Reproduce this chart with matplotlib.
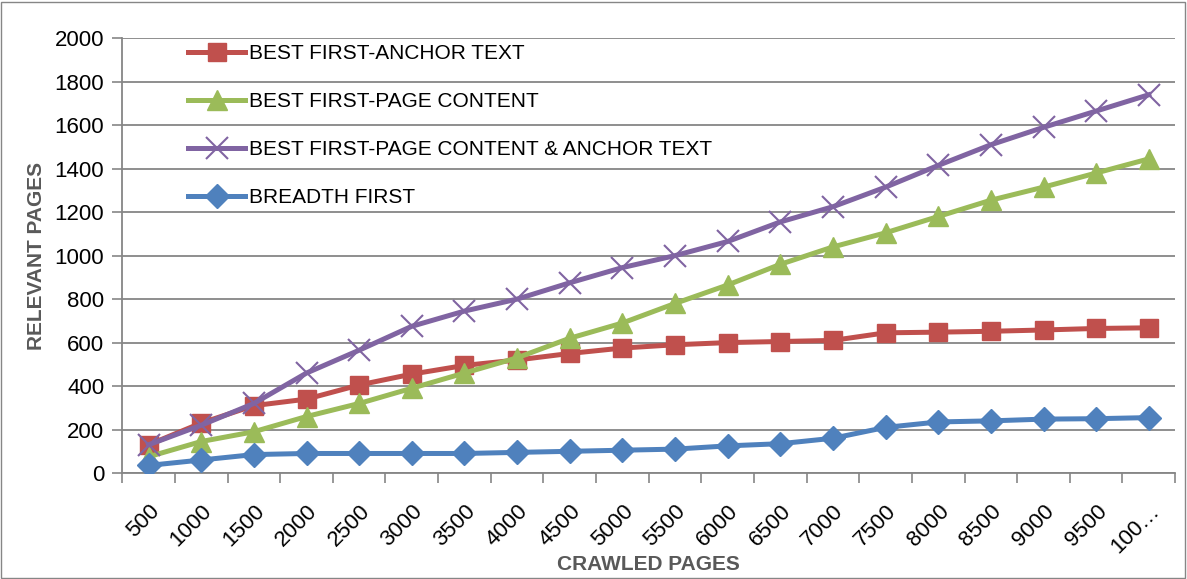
import matplotlib.pyplot as plt
from matplotlib.patches import Rectangle
from matplotlib.ticker import FixedLocator

plt.rcParams['font.family'] = ['Liberation Sans', 'DejaVu Sans']

# crawled pages (categories)
crawled = ["500", "1000", "1500", "2000", "2500", "3000", "3500", "4000", "4500", "5000",
           "5500", "6000", "6500", "7000", "7500", "8000", "8500", "9000", "9500", "100…"]

anchor_text = [130, 230, 310, 340, 405, 455, 495, 520, 550, 575,
               590, 600, 605, 610, 645, 648, 652, 658, 665, 668]
page_content = [75, 145, 190, 260, 320, 390, 460, 530, 620, 690,
                780, 865, 960, 1040, 1105, 1180, 1255, 1315, 1380, 1445]
content_anchor = [130, 220, 320, 460, 565, 675, 745, 800, 875, 945,
                  1000, 1065, 1155, 1225, 1315, 1415, 1510, 1590, 1665, 1740]
breadth_first = [35, 60, 85, 90, 90, 90, 90, 95, 100, 105,
                 110, 125, 135, 160, 210, 235, 240, 248, 250, 255]

fig = plt.figure(figsize=(11.87, 5.79), dpi=100)
ax = fig.add_axes([0.103, 0.183, 0.887, 0.751])

x = list(range(len(crawled)))

ax.plot(x, anchor_text, color="#C0504D", lw=3.6, marker="s", ms=13,
        label="BEST FIRST-ANCHOR TEXT", zorder=3)
ax.plot(x, page_content, color="#9BBB59", lw=3.6, marker="^", ms=14,
        label="BEST FIRST-PAGE CONTENT", zorder=4)
ax.plot(x, content_anchor, color="#8064A2", lw=3.6, marker="x", ms=16, mew=1.5,
        label="BEST FIRST-PAGE CONTENT & ANCHOR TEXT", zorder=5)
ax.plot(x, breadth_first, color="#4F81BD", lw=3.6, marker="D", ms=12,
        label="BREADTH FIRST", zorder=6)

ax.set_xlim(-0.5, len(crawled) - 0.5)
ax.set_ylim(0, 2000)
ax.set_yticks(range(0, 2001, 200))
ax.set_xticks(x)
ax.set_xticklabels(crawled, rotation=45, ha="right", rotation_mode="anchor", fontsize=16)
ax.xaxis.set_minor_locator(FixedLocator([i - 0.5 for i in range(len(crawled) + 1)]))
ax.tick_params(axis="x", which="major", length=0, pad=20)
ax.tick_params(axis="x", which="minor", length=7, color="#868686", width=1.2)
ax.tick_params(axis="y", length=7, color="#868686", width=1.2, labelsize=16, pad=6)

ax.grid(True, axis="y", color="#868686", lw=1.3)
ax.set_axisbelow(True)
for side in ["top", "right"]:
    ax.spines[side].set_visible(False)
for side in ["left", "bottom"]:
    ax.spines[side].set_color("#868686")
    ax.spines[side].set_linewidth(1.3)

ax.set_xlabel("CRAWLED PAGES", fontsize=15, fontweight="bold", color="#595959", labelpad=-2)
ax.set_ylabel("RELEVANT PAGES", fontsize=15, fontweight="bold", color="#595959", labelpad=6)

ax.legend(loc="upper left", bbox_to_anchor=(0.045, 1.03), frameon=False, fontsize=15,
          handlelength=2.7, handletextpad=0.2, labelspacing=1.4)

fig.add_artist(Rectangle((0.001, 0.002), 0.997, 0.995, transform=fig.transFigure,
                         fill=False, edgecolor="#868686", lw=1))

fig.savefig("out.png", dpi=100)
